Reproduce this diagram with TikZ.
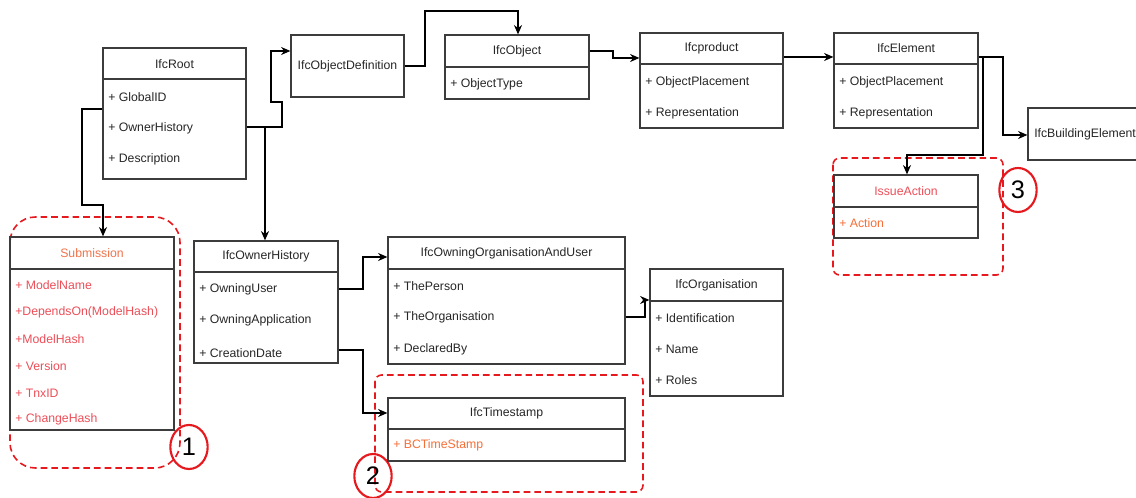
\documentclass[tikz,border=0pt]{standalone}
\usepackage{fontspec}
\setmainfont{Liberation Sans}
\usetikzlibrary{fit,arrows.meta,shapes.geometric}
\definecolor{boxgray}{RGB}{60,60,60}
\definecolor{newtitle}{RGB}{240,115,75}
\definecolor{newattr}{RGB}{236,78,88}
\definecolor{neworange}{RGB}{245,110,55}
\definecolor{markred}{RGB}{230,25,30}
\tikzset{
  box/.style={draw=boxgray, line width=0.9pt, inner sep=0pt},
  divider/.style={draw=boxgray, line width=0.9pt},
  title/.style={inner sep=0pt, text=black!85, font=\fontsize{9.2}{10}\selectfont},
  attr/.style={anchor=west, inner sep=0pt, text=black!85, font=\fontsize{9.2}{10}\selectfont},
  link/.style={draw=black, line width=0.9pt, -{Stealth[length=7pt,width=6pt]}},
  newpart/.style={draw=markred, line width=1.2pt, dash pattern=on 5pt off 3pt},
  numring/.style={ellipse, draw=markred, line width=1.6pt, minimum width=28pt,
    minimum height=33pt, inner sep=0pt, font=\fontsize{19}{20}\selectfont}
}
\begin{document}
\begin{tikzpicture}[x=0.75pt,y=-0.75pt]
\useasboundingbox (0,0) rectangle (1136,498);
% highlighted groups
\draw[newpart, rounded corners=19pt] (10,217) rectangle (180,468);
\draw[newpart, rounded corners=5pt] (375,375) rectangle (643,492);
\draw[newpart, rounded corners=5pt] (833,158) rectangle (1003,275);
\node[numring] (n1) at (189,447) {1};
\node[numring] (n2) at (373,476) {2};
\node[numring] (n3) at (1018,190) {3};
% IfcRoot
\node[box, fit={(103,48) (246,179)}] (root) {};
\draw[divider] (103,79) -- (246,79);
\node[title] (roott) at (174.5,64) {IfcRoot};
\node[attr] (roota) at (108,97) {+ GlobalID};
\node[attr] (rootb) at (108,128) {+ OwnerHistory};
\node[attr] (rootc) at (108,159) {+ Description};
% Submission
\node[box, fit={(10,237) (174,430)}] (sub) {};
\draw[divider] (10,269) -- (174,269);
\node[title, text=newtitle] (subt) at (92,253) {Submission};
\node[attr, text=newattr] (suba) at (15,285) {+ ModelName};
\node[attr, text=newattr] (subb) at (15,312) {+DependsOn(ModelHash)};
\node[attr, text=newattr] (subc) at (15,339) {+ModelHash};
\node[attr, text=newattr] (subd) at (15,366) {+ Version};
\node[attr, text=newattr] (sube) at (15,393) {+ TnxID};
\node[attr, text=newattr] (subf) at (15,419) {+ ChangeHash};
% IfcObjectDefinition
\node[box, fit={(291,35) (404,97)}] (objdef) {};
\node[title] (objdeft) at (347.5,66) {IfcObjectDefinition};
% IfcObject
\node[box, fit={(445,35) (589,99)}] (obj) {};
\draw[divider] (445,67) -- (589,67);
\node[title] (objt) at (517,51) {IfcObject};
\node[attr] (obja) at (450,84) {+ ObjectType};
% Ifcproduct
\node[box, fit={(640,33) (783,128)}] (prod) {};
\draw[divider] (640,64) -- (783,64);
\node[title] (prodt) at (711.5,48) {Ifcproduct};
\node[attr] (proda) at (645,82) {+ ObjectPlacement};
\node[attr] (prodb) at (645,113) {+ Representation};
% IfcElement
\node[box, fit={(834,33) (978,128)}] (elem) {};
\draw[divider] (834,64) -- (978,64);
\node[title] (elemt) at (906,48) {IfcElement};
\node[attr] (elema) at (839,82) {+ ObjectPlacement};
\node[attr] (elemb) at (839,113) {+ Representation};
% IfcBuildingElement
\node[box, fit={(1028,108) (1146,160)}] (bldg) {};
\node[attr] (bldgt) at (1034,134) {IfcBuildingElement};
% IssueAction
\node[box, fit={(834,175) (978,238)}] (issue) {};
\draw[divider] (834,207) -- (978,207);
\node[title, text=newattr] (issuet) at (906,191) {IssueAction};
\node[attr, text=neworange] (issuea) at (839,223) {+ Action};
% IfcOwnerHistory
\node[box, fit={(194,241) (338,363)}] (owner) {};
\draw[divider] (194,272) -- (338,272);
\node[title] (ownert) at (266,256) {IfcOwnerHistory};
\node[attr] (ownera) at (199,289) {+ OwningUser};
\node[attr] (ownerb) at (199,320) {+ OwningApplication};
\node[attr] (ownerc) at (199,353) {+ CreationDate};
% IfcOwningOrganisationAndUser
\node[box, fit={(388,237) (625,364)}] (ouser) {};
\draw[divider] (388,269) -- (625,269);
\node[title] (ousert) at (506.5,253) {IfcOwningOrganisationAndUser};
\node[attr] (ousera) at (393,286) {+ ThePerson};
\node[attr] (ouserb) at (393,317) {+ TheOrganisation};
\node[attr] (ouserc) at (393,349) {+ DeclaredBy};
% IfcOrganisation
\node[box, fit={(650,269) (783,396)}] (org) {};
\draw[divider] (650,301) -- (783,301);
\node[title] (orgt) at (716.5,285) {IfcOrganisation};
\node[attr] (orga) at (655,318) {+ Identification};
\node[attr] (orgb) at (655,349) {+ Name};
\node[attr] (orgc) at (655,380) {+ Roles};
% IfcTimestamp
\node[box, fit={(388,398) (625,461)}] (stamp) {};
\draw[divider] (388,429) -- (625,429);
\node[title] (stampt) at (506.5,413) {IfcTimestamp};
\node[attr, text=neworange] (stampa) at (393,445) {+ BCTimeStamp};
% connectors
\coordinate (rootsplit) at (265,127);
\coordinate (elemsplit) at (983,57);
\draw[link] (root.west |- 0,109) -| (82,205) -| (sub.north -| 103,0);
\draw[link] (root.east |- 0,127) -- (282,127) -- (282,102) -- (271,102) -- (271,51) -- (objdef.west |- 0,51);
\draw[link] (rootsplit) -- (owner.north -| rootsplit);
\draw[link] (objdef.east) -| (425,11) -| (obj.north -| 518,0);
\draw[link] (obj.east |- 0,51) -| (613,58) -- (prod.west |- 0,58);
\draw[link] (prod.east |- 0,57) -- (elem.west |- 0,57);
\draw[link] (elem.east |- elemsplit) -| (1003,135) -- (bldg.west |- 0,135);
\draw[link] (elemsplit) -- (983,155) -| (issue.north -| 907,0);
\draw[link] (owner.east |- 0,289) -| (363,257) -- (ouser.west |- 0,257);
\draw[link] (owner.east |- 0,350) -| (363,413) -- (stamp.west |- 0,413);
\draw[link] (ouser.east |- 0,317) -| (645,300) -- (org.west |- 0,300);
\end{tikzpicture}
\end{document}
